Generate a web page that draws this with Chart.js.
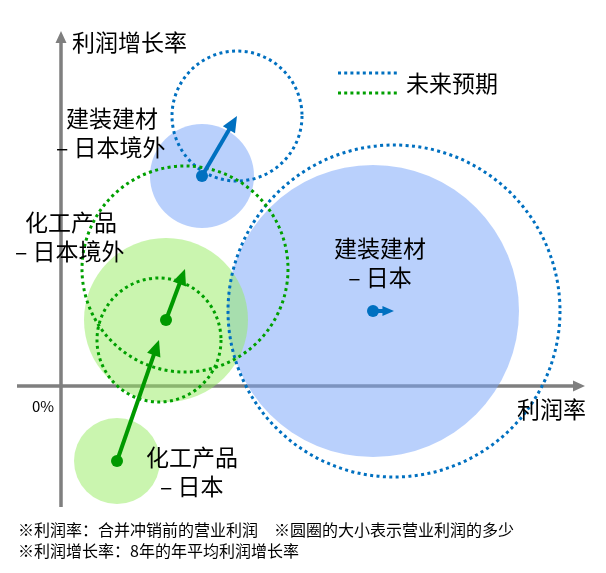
<!doctype html>
<html lang="zh">
  <head>
    <meta charset="UTF-8" />
    <title>利润率与利润增长率</title>
    <script src="https://cdn.jsdelivr.net/npm/chart.js"></script>
    <style>
      html,
      body {
        margin: 0;
        padding: 0;
        background: #fff;
      }
      #wrap {
        width: 606px;
        height: 573px;
      }
    </style>
  </head>
  <body>
    <div id="wrap"><canvas id="myChart" width="606" height="573"></canvas></div>

    <script>
      // segments, one bubble each
      const categories = ["建装建材\n– 日本境外", "建装建材\n– 日本", "化工产品\n– 日本境外", "化工产品\n– 日本"];
      const segment = ["建装建材", "建装建材", "化工产品", "化工产品"];

      // now: profit margin (x), profit growth (y), operating profit (bubble size)
      const margin = [14.1, 31.2, 10.5, 5.6];
      const growth = [21.0, 7.5, 6.6, -7.5];
      const size = [52, 146, 82, 43];

      // expected in future (dotted circles)
      const futureMargin = [17.6, 33.3, 12.4, 9.8];
      const futureGrowth = [27.0, 7.5, 11.7, 4.6];
      const futureSize = [65, 166, 103, 62];

      const legendLabel = "未来预期";
      const xAxisTitle = "利润率";
      const yAxisTitle = "利润增长率";
      const originLabel = "0%";
      const notes = [
        "※利润率：合并冲销前的营业利润　※圆圈的大小表示营业利润的多少",
        "※利润增长率：8年的年平均利润增长率",
      ];

      const FONT = '"Noto Sans CJK SC", "Noto Sans", sans-serif';
      const colors = {
        建装建材: { fill: "rgba(120, 165, 250, 0.52)", line: "#0070c0" },
        化工产品: { fill: "rgba(150, 235, 95, 0.5)", line: "#00a000" },
      };
      const arrowColors = { 建装建材: "#0070c0", 化工产品: "#009900" };

      // where each bubble's name goes (pixels), same order as categories
      const labelLayout = [
        { x: 66, y: 118, align: "left", dx: [0, -10] },
        { x: 380, y: 248, align: "center", dx: [0, 0] },
        { x: 25, y: 222, align: "left", dx: [0, -10] },
        { x: 146, y: 457, align: "left", dx: [0, 14] },
      ];

      function bubbles(name) {
        const out = [];
        segment.forEach((s, i) => {
          if (s === name) out.push({ x: margin[i], y: growth[i], r: size[i] });
        });
        return out;
      }

      function drawArrow(ctx, x1, y1, x2, y2, color) {
        const ang = Math.atan2(y2 - y1, x2 - x1);
        const len = Math.hypot(x2 - x1, y2 - y1);
        const head = Math.min(16, len * 0.55);
        const half = head * 0.44;
        ctx.save();
        ctx.strokeStyle = color;
        ctx.fillStyle = color;
        ctx.lineWidth = 4;
        ctx.beginPath();
        ctx.moveTo(x1, y1);
        ctx.lineTo(x2 - Math.cos(ang) * (head - 1), y2 - Math.sin(ang) * (head - 1));
        ctx.stroke();
        ctx.beginPath();
        ctx.moveTo(x2, y2);
        ctx.lineTo(x2 - Math.cos(ang) * head - Math.sin(ang) * half, y2 - Math.sin(ang) * head + Math.cos(ang) * half);
        ctx.lineTo(x2 - Math.cos(ang) * head + Math.sin(ang) * half, y2 - Math.sin(ang) * head - Math.cos(ang) * half);
        ctx.closePath();
        ctx.fill();
        ctx.beginPath();
        ctx.arc(x1, y1, 6, 0, Math.PI * 2);
        ctx.fill();
        ctx.restore();
      }

      const overlay = {
        id: "overlay",
        beforeDatasetsDraw(chart) {
          const ctx = chart.ctx;
          const xs = chart.scales.x;
          const ys = chart.scales.y;
          const ox = xs.getPixelForValue(0);
          const oy = ys.getPixelForValue(0);
          const xl = xs.getPixelForValue(-4.4);
          const xr = xs.getPixelForValue(52.4);
          const yb = ys.getPixelForValue(-12.1);
          const yt = ys.getPixelForValue(35.5);
          ctx.save();
          ctx.strokeStyle = "#7f7f7f";
          ctx.fillStyle = "#7f7f7f";
          ctx.lineWidth = 3.5;
          ctx.beginPath();
          ctx.moveTo(xl, oy);
          ctx.lineTo(xr - 10, oy);
          ctx.moveTo(ox, yb);
          ctx.lineTo(ox, yt + 10);
          ctx.stroke();
          ctx.beginPath();
          ctx.moveTo(xr, oy);
          ctx.lineTo(xr - 12, oy - 5.5);
          ctx.lineTo(xr - 12, oy + 5.5);
          ctx.closePath();
          ctx.moveTo(ox, yt);
          ctx.lineTo(ox - 5.5, yt + 12);
          ctx.lineTo(ox + 5.5, yt + 12);
          ctx.closePath();
          ctx.fill();
          ctx.restore();
        },
        afterDatasetsDraw(chart) {
          const ctx = chart.ctx;
          const xs = chart.scales.x;
          const ys = chart.scales.y;

          // dotted future circles
          ctx.save();
          ctx.lineWidth = 3;
          ctx.setLineDash([3, 3.4]);
          categories.forEach((c, i) => {
            ctx.strokeStyle = colors[segment[i]].line;
            ctx.beginPath();
            ctx.arc(xs.getPixelForValue(futureMargin[i]), ys.getPixelForValue(futureGrowth[i]), futureSize[i], 0, Math.PI * 2);
            ctx.stroke();
          });
          ctx.restore();

          // arrows now -> future
          categories.forEach((c, i) => {
            drawArrow(
              ctx,
              xs.getPixelForValue(margin[i]),
              ys.getPixelForValue(growth[i]),
              xs.getPixelForValue(futureMargin[i]),
              ys.getPixelForValue(futureGrowth[i]),
              arrowColors[segment[i]]
            );
          });

          // bubble names
          ctx.save();
          ctx.fillStyle = "#000";
          ctx.textBaseline = "middle";
          ctx.font = "23px " + FONT;
          categories.forEach((c, i) => {
            const L = labelLayout[i];
            ctx.textAlign = L.align;
            c.split("\n").forEach((line, k) => {
              ctx.fillText(line, L.x + L.dx[k], L.y + k * 29);
            });
          });

          // axis titles
          ctx.textAlign = "left";
          ctx.fillText(yAxisTitle, 72, 42);
          ctx.textAlign = "right";
          ctx.fillText(xAxisTitle, 586, 409);

          // legend
          ctx.textAlign = "left";
          ctx.fillText(legendLabel, 406, 83);
          ctx.lineWidth = 3;
          ctx.setLineDash([3, 3.2]);
          ctx.strokeStyle = colors["建装建材"].line;
          ctx.beginPath();
          ctx.moveTo(338, 73);
          ctx.lineTo(398, 73);
          ctx.stroke();
          ctx.strokeStyle = colors["化工产品"].line;
          ctx.beginPath();
          ctx.moveTo(338, 93);
          ctx.lineTo(398, 93);
          ctx.stroke();
          ctx.setLineDash([]);

          ctx.font = "15px " + FONT;
          ctx.fillText(originLabel, 32, 406);

          ctx.font = "16px " + FONT;
          notes.forEach((t, k) => ctx.fillText(t, 18, 530 + k * 21));
          ctx.restore();
        },
      };

      const ctx = document.getElementById("myChart").getContext("2d");
      new Chart(ctx, {
        type: "bubble",
        data: {
          datasets: [
            {
              label: "化工产品",
              data: bubbles("化工产品"),
              backgroundColor: colors["化工产品"].fill,
              borderWidth: 0,
              clip: false,
            },
            {
              label: "建装建材",
              data: bubbles("建装建材"),
              backgroundColor: colors["建装建材"].fill,
              borderWidth: 0,
              clip: false,
            },
          ],
        },
        options: {
          responsive: false,
          animation: false,
          events: [],
          layout: { padding: 0, autoPadding: false },
          plugins: { legend: { display: false }, tooltip: { enabled: false } },
          scales: {
            x: { type: "linear", display: false, min: -6.1, max: 54.5 },
            y: { type: "linear", display: false, min: -18.7, max: 38.6 },
          },
        },
        plugins: [overlay],
      });
    </script>
  </body>
</html>
